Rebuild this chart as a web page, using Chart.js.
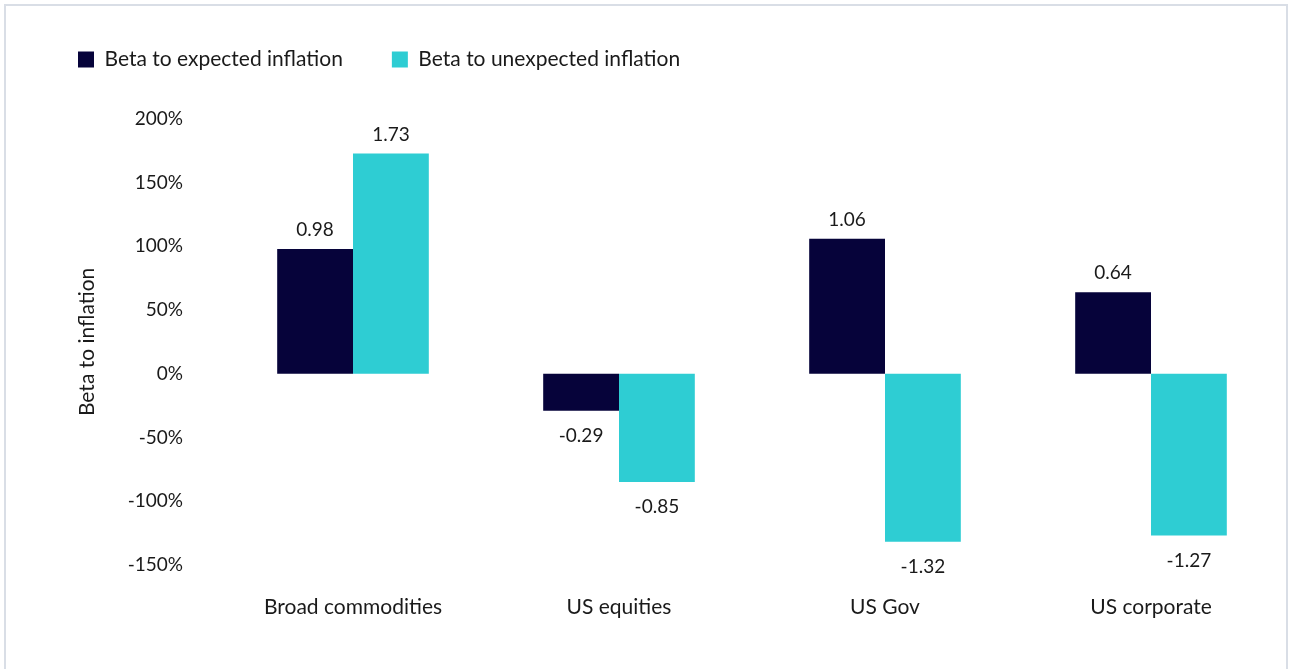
<!DOCTYPE html>
<html>
<head>
<meta charset="utf-8">
<script src="https://cdn.jsdelivr.net/npm/chart.js@4"></script>
<style>
  html, body { margin: 0; padding: 0; background: #fff; }
  #frame {
    position: absolute; left: 4px; top: 4px; width: 1284px; height: 700px;
    border: 2px solid #d9dee6; box-sizing: border-box;
  }
  #wrap { position: absolute; left: 0; top: 0; width: 1290px; height: 669px; }
</style>
</head>
<body>
<div id="frame"></div>
<div id="wrap"><canvas id="chart"></canvas></div>
<script>
const categories = ['Broad commodities', 'US equities', 'US Gov', 'US corporate'];
const expectedBeta = [0.98, -0.29, 1.06, 0.64];
const unexpectedBeta = [1.73, -0.85, -1.32, -1.27];
const seriesNames = ['Beta to expected inflation', 'Beta to unexpected inflation'];

const FONT = 'Lato, "Noto Sans", sans-serif';

// value labels above positive bars, below negative ones
const valueLabels = {
  id: 'valueLabels',
  afterDatasetsDraw(chart) {
    const ctx = chart.ctx;
    ctx.save();
    ctx.font = '19px ' + FONT;
    ctx.fillStyle = '#1a1a1a';
    ctx.textAlign = 'center';
    ctx.textBaseline = 'middle';
    chart.data.datasets.forEach((ds, i) => {
      chart.getDatasetMeta(i).data.forEach((bar, j) => {
        const v = ds.data[j];
        const y = v >= 0 ? bar.y - 19 : bar.y + 25;
        ctx.fillText(v.toFixed(2), bar.x, y);
      });
    });
    ctx.restore();
  },
};

// extra space between legend and plot
const legendGap = {
  id: 'legendGap',
  beforeInit(chart) {
    const fit = chart.legend.fit;
    chart.legend.fit = function () {
      fit.call(this);
      this.height += 39;
    };
  },
};

new Chart(document.getElementById('chart').getContext('2d'), {
  type: 'bar',
  data: {
    labels: categories,
    datasets: [
      { label: seriesNames[0], data: expectedBeta, backgroundColor: '#06033a' },
      { label: seriesNames[1], data: unexpectedBeta, backgroundColor: '#2ecdd3' },
    ],
  },
  options: {
    responsive: true,
    maintainAspectRatio: false,
    animation: false,
    layout: { padding: { left: 29, right: 6, top: 0, bottom: 19 } },
    datasets: { bar: { categoryPercentage: 0.57, barPercentage: 1 } },
    plugins: {
      tooltip: { enabled: false },
      legend: {
        position: 'top',
        align: 'start',
        labels: {
          boxWidth: 16,
          boxHeight: 16,
          padding: 49,
          color: '#1a1a1a',
          font: { family: FONT, size: 21 },
        },
      },
    },
    scales: {
      x: {
        grid: { display: false, drawTicks: false },
        border: { display: false },
        ticks: { color: '#1a1a1a', padding: 30, font: { family: FONT, size: 21 } },
      },
      y: {
        min: -1.5,
        max: 2,
        afterFit: (scale) => { scale.width = 191; },
        grid: { display: false, drawTicks: false },
        border: { display: false },
        title: {
          display: true,
          text: 'Beta to inflation',
          color: '#1a1a1a',
          padding: { top: 46, bottom: 0 },
          font: { family: FONT, size: 21 },
        },
        ticks: {
          stepSize: 0.5,
          padding: 37,
          color: '#1a1a1a',
          font: { family: FONT, size: 19 },
          callback: (v) => Math.round(v * 100) + '%',
        },
      },
    },
  },
  plugins: [valueLabels, legendGap],
});
</script>
</body>
</html>
